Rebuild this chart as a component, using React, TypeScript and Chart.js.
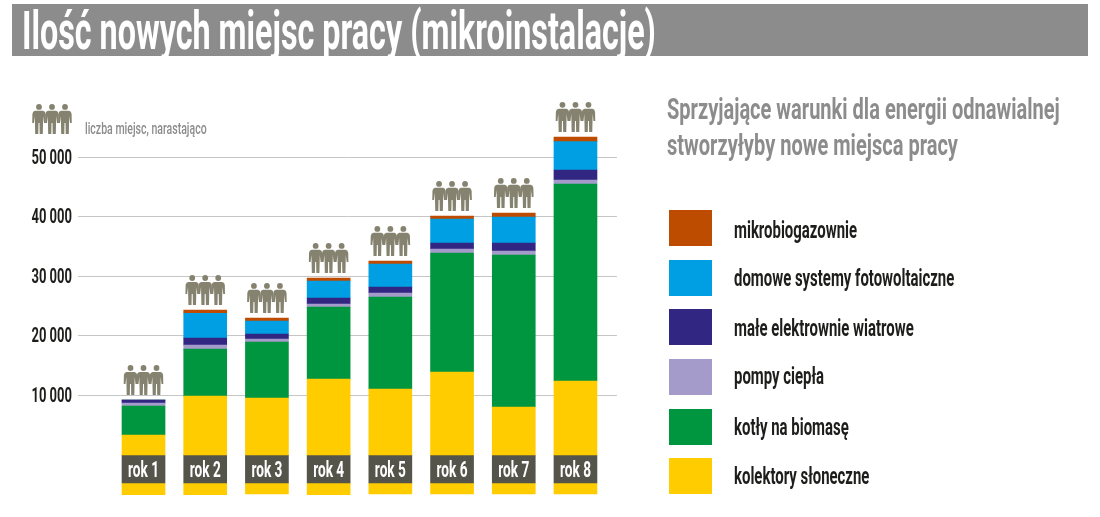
import React, { useEffect, useRef } from "react";
import { Chart, registerables } from "chart.js";

Chart.register(...registerables);

const categories = ["rok 1", "rok 2", "rok 3", "rok 4", "rok 5", "rok 6", "rok 7", "rok 8"];
const solar = [3360, 9900, 9580, 12770, 11090, 13950, 8070, 12440];
const biomass = [4870, 7900, 9410, 12100, 15460, 20000, 25540, 33110];
const heatPumps = [500, 670, 510, 510, 680, 670, 680, 670];
const wind = [500, 1170, 840, 1010, 1005, 1010, 1340, 1680];
const pv = [0, 4150, 2180, 2850, 3865, 4030, 4370, 4760];
const biogas = [0, 560, 505, 510, 500, 510, 670, 790];
const labelBand = [-4706, -4706, -4706, -4706, -4706, -4706, -4706, -4706];
const below = [-2017, -2017, -1850, -2017, -1850, -1850, -1850, -1850];
const yTicks = [10000, 20000, 30000, 40000, 50000];

const titleText = "Ilość nowych miejsc pracy (mikroinstalacje)";
const unitText = "liczba miejsc, narastająco";
const headingLines = ["Sprzyjające warunki dla energii odnawialnej", "stworzyłyby nowe miejsca pracy"];

const COLORS = { solar: "#ffcc00", biomass: "#009640", heat: "#a59bcb", wind: "#312783", pv: "#009fe3", biogas: "#bd4b00", band: "#55544a" };
const FONT = "Roboto, sans-serif";

const legendItems = [
  { label: "mikrobiogazownie", color: COLORS.biogas },
  { label: "domowe systemy fotowoltaiczne", color: COLORS.pv },
  { label: "małe elektrownie wiatrowe", color: COLORS.wind },
  { label: "pompy ciepła", color: COLORS.heat },
  { label: "kotły na biomasę", color: COLORS.biomass },
  { label: "kolektory słoneczne", color: COLORS.solar },
];

function person(ctx: CanvasRenderingContext2D, cx: number, top: number) {
  ctx.beginPath();
  ctx.arc(cx, top + 2.9, 2.9, 0, Math.PI * 2);
  ctx.fill();
  ctx.beginPath();
  ctx.moveTo(cx - 4, top + 6.8);
  ctx.lineTo(cx + 4, top + 6.8);
  ctx.quadraticCurveTo(cx + 6.4, top + 7.2, cx + 6.6, top + 10);
  ctx.lineTo(cx + 6.8, top + 19);
  ctx.lineTo(cx + 5, top + 19);
  ctx.lineTo(cx + 4.2, top + 12);
  ctx.lineTo(cx + 3.8, top + 30);
  ctx.lineTo(cx + 0.7, top + 30);
  ctx.lineTo(cx + 0.5, top + 19);
  ctx.lineTo(cx - 0.5, top + 19);
  ctx.lineTo(cx - 0.7, top + 30);
  ctx.lineTo(cx - 3.8, top + 30);
  ctx.lineTo(cx - 4.2, top + 12);
  ctx.lineTo(cx - 5, top + 19);
  ctx.lineTo(cx - 6.8, top + 19);
  ctx.lineTo(cx - 6.6, top + 10);
  ctx.quadraticCurveTo(cx - 6.4, top + 7.2, cx - 4, top + 6.8);
  ctx.closePath();
  ctx.fill();
}

function trio(ctx: CanvasRenderingContext2D, cx: number, top: number) {
  ctx.fillStyle = "#85836f";
  person(ctx, cx - 13, top);
  person(ctx, cx, top);
  person(ctx, cx + 13, top);
}

const peoplePlugin = {
  id: "people",
  afterDatasetsDraw(chart: any) {
    const { ctx, scales } = chart;
    ctx.save();
    categories.forEach((_, i) => {
      const total = solar[i] + biomass[i] + heatPumps[i] + wind[i] + pv[i] + biogas[i];
      trio(ctx, scales.x.getPixelForValue(i + 1), scales.y.getPixelForValue(total) - 35);
    });
    trio(ctx, 52, 104);
    ctx.restore();
  },
};

// The tick font of the reference is very condensed: squeeze the chart's own text horizontally.
const condensePlugin = {
  id: "condense",
  beforeInit(chart: any) {
    const ctx = chart.ctx;
    const fill = ctx.fillText.bind(ctx);
    ctx.fillText = (t: string, x: number, y: number) => fill(t, x, y + 1, ctx.measureText(t).width * 0.62);
  },
};

export default function App() {
  const ref = useRef<HTMLCanvasElement>(null);
  useEffect(() => {
    const series = (label: string, values: number[], color: string) => ({
      label,
      data: values.map((y, i) => ({ x: i + 1, y })),
      backgroundColor: color,
      borderWidth: 0,
      barThickness: 43,
      stack: "s",
    });
    const chart = new Chart(ref.current!, {
      type: "bar",
      data: {
        datasets: [
          series("kolektory słoneczne", solar, COLORS.solar),
          series("kotły na biomasę", biomass, COLORS.biomass),
          series("pompy ciepła", heatPumps, COLORS.heat),
          series("małe elektrownie wiatrowe", wind, COLORS.wind),
          series("domowe systemy fotowoltaiczne", pv, COLORS.pv),
          series("mikrobiogazownie", biogas, COLORS.biogas),
          series("rok", labelBand, COLORS.band),
          series("kolektory słoneczne (dół)", below, COLORS.solar),
        ] as any,
      },
      options: {
        animation: false,
        responsive: false,
        layout: { padding: { top: 127.75, bottom: 22, left: 0, right: 483 } },
        plugins: { legend: { display: false }, title: { display: false }, tooltip: { enabled: false } },
        scales: {
          x: {
            type: "linear",
            stacked: true,
            offset: false,
            min: -0.0616,
            max: 8.673,
            position: { y: -2350 } as any,
            grid: { display: false, drawTicks: false },
            border: { display: false },
            afterBuildTicks: (s: any) => {
              s.ticks = categories.map((_, i) => ({ value: i + 1 }));
            },
            ticks: {
              z: 1,
              autoSkip: false,
              maxRotation: 0,
              padding: -12,
              color: "#ffffff",
              font: { family: FONT, size: 22, weight: "bold" },
              callback: (v: any) => categories[Number(v) - 1],
            },
          },
          y: {
            stacked: true,
            min: -6723,
            max: 55000,
            afterFit: (s: any) => {
              s.width = 78;
            },
            afterBuildTicks: (s: any) => {
              s.ticks = yTicks.map((value) => ({ value }));
            },
            grid: { color: "#c6c6c6", lineWidth: 1, drawTicks: false },
            border: { display: false },
            ticks: {
              padding: 6,
              color: "#1d1d1b",
              font: { family: FONT, size: 21, weight: "bold" },
              callback: (v: any) => String(v).replace(/\B(?=(\d{3})+$)/g, " "),
            },
          },
        } as any,
      },
      plugins: [condensePlugin, peoplePlugin],
    });
    return () => chart.destroy();
  }, []);

  const text = (t: string, left: number, top: number, size: number, color: string, sx: number, weight = "normal") => (
    <div
      key={t}
      style={{
        position: "absolute", left, top, fontFamily: FONT, fontSize: size, fontWeight: weight, color,
        whiteSpace: "nowrap", lineHeight: 1, transform: `scaleX(${sx})`, transformOrigin: "left top",
      }}
    >
      {t}
    </div>
  );

  return (
    <div style={{ position: "absolute", left: 0, top: 0, width: 1100, height: 517, background: "#fff", overflow: "hidden" }}>
      <canvas ref={ref} width={1100} height={517} style={{ position: "absolute", left: 0, top: 0 }} />
      <div style={{ position: "absolute", left: 12, top: 4, width: 1076, height: 52, background: "#8c8c8c" }} />
      {text(titleText, 22, 5, 53, "#ffffff", 0.609, "bold")}
      {text(unitText, 85, 120, 17, "#8c8c8c", 0.62, "500")}
      {headingLines.map((l, i) => text(l, 667, 94 + i * 36, 30, "#8c8c8c", 0.668, "bold"))}
      {legendItems.map((it, i) => (
        <React.Fragment key={it.label}>
          <div style={{ position: "absolute", left: 669, top: [210, 260, 309, 359, 409, 458][i], width: 43, height: 36, background: it.color }} />
          {text(it.label, 734, [219, 267, 317, 365, 416, 465][i], 23, "#1d1d1b", 0.649, "bold")}
        </React.Fragment>
      ))}
    </div>
  );
}
